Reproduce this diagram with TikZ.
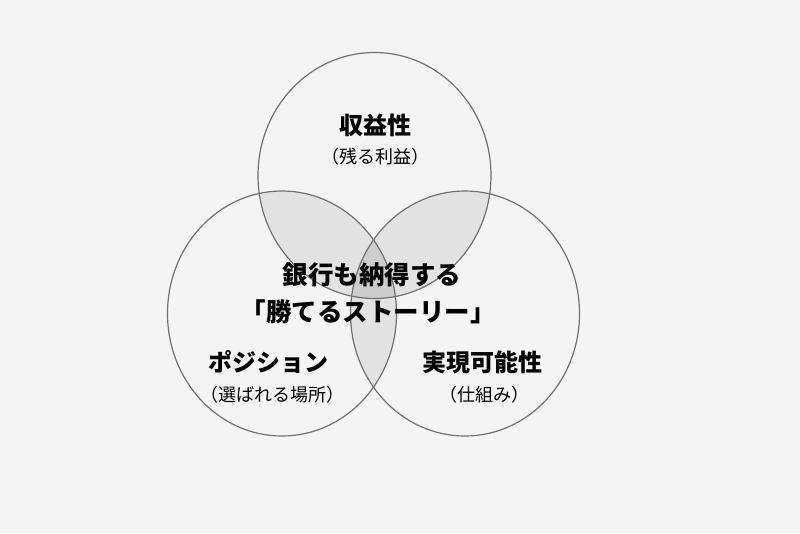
\documentclass[tikz,border=0pt]{standalone}
\usepackage{fontspec}
\setmainfont{Noto Sans CJK JP}
\definecolor{bgcol}{HTML}{F4F4F4}
\definecolor{ringcol}{HTML}{707070}
\definecolor{pairfill}{HTML}{E2E2E2}
\definecolor{corefill}{HTML}{CDCDCD}
\tikzset{
  ring/.style={draw=ringcol,line width=1.2pt},
  headtext/.style={font=\bfseries\fontsize{24}{28}\selectfont,inner sep=0pt},
  subtext/.style={font=\fontsize{18}{22}\selectfont,inner sep=0pt},
  coretext/.style={font=\bfseries\fontsize{25.5}{30}\selectfont,inner sep=0pt},
}
\begin{document}
\begin{tikzpicture}[x=1pt,y=-1pt]
        \fill[bgcol] (0,0) rectangle (800,533);
        \coordinate (top) at (374.5,175.5);
        \coordinate (left) at (282,313.5);
        \coordinate (right) at (465,313.5);
        % overlaps
        \begin{scope}
            \clip (top) ellipse [x radius=116.5,y radius=123];
            \fill[pairfill] (left) ellipse [x radius=114.5,y radius=122.5];
            \fill[pairfill] (right) ellipse [x radius=114.5,y radius=122.5];
        \end{scope}
        \begin{scope}
            \clip (left) ellipse [x radius=114.5,y radius=122.5];
            \fill[pairfill] (right) ellipse [x radius=114.5,y radius=122.5];
            \clip (right) ellipse [x radius=114.5,y radius=122.5];
            \fill[corefill] (top) ellipse [x radius=116.5,y radius=123];
        \end{scope}
        \draw[ring] (top) ellipse [x radius=116.5,y radius=123];
        \draw[ring] (left) ellipse [x radius=114.5,y radius=122.5];
        \draw[ring] (right) ellipse [x radius=114.5,y radius=122.5];
        % texts
        \node[headtext] (profit) at (375,125) {収益性};
        \node[subtext] (profitsub) at (375,157) {（残る利益）};
        \node[coretext] (story1) at (372,275) {銀行も納得する};
        \node[coretext] (story2) at (368,312) {「勝てるストーリー」};
        \node[headtext] (position) at (268,362) {ポジション};
        \node[subtext] (positionsub) at (272,395) {（選ばれる場所）};
        \node[headtext] (feasible) at (482,362) {実現可能性};
        \node[subtext] (feasiblesub) at (484,395) {（仕組み）};
\end{tikzpicture}
\end{document}
